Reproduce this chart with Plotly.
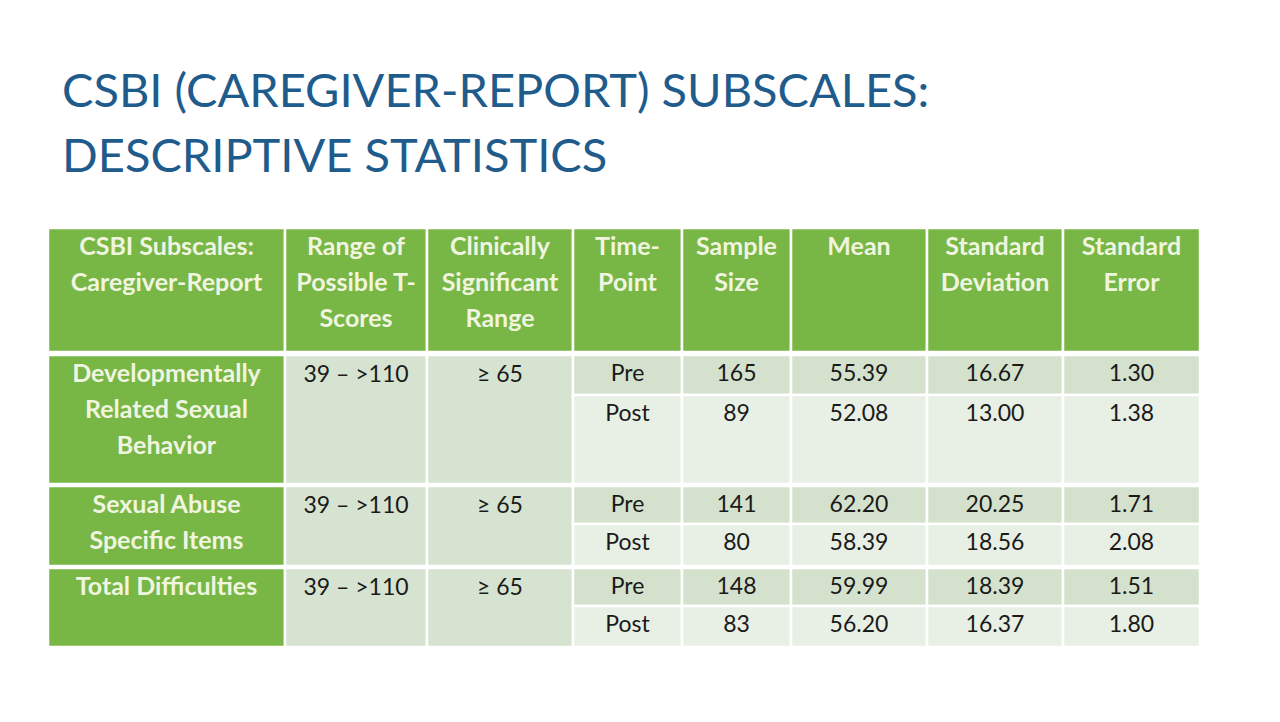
import plotly.graph_objects as go

# ---------------- data ----------------
title_lines = ["CSBI (CAREGIVER-REPORT) SUBSCALES:", "DESCRIPTIVE STATISTICS"]
headers = [
    ["CSBI Subscales:", "Caregiver-Report"],
    ["Range of", "Possible T-", "Scores"],
    ["Clinically", "Significant", "Range"],
    ["Time-", "Point"],
    ["Sample", "Size"],
    ["Mean"],
    ["Standard", "Deviation"],
    ["Standard", "Error"],
]
subscales = [
    ["Developmentally", "Related Sexual", "Behavior"],
    ["Sexual Abuse", "Specific Items"],
    ["Total Difficulties"],
]
t_score_range = ["39 – >110", "39 – >110", "39 – >110"]
clinical_range = ["≥ 65", "≥ 65", "≥ 65"]
time_points = ["Pre", "Post", "Pre", "Post", "Pre", "Post"]
sample_size = [165, 89, 141, 80, 148, 83]
means = [55.39, 52.08, 62.20, 58.39, 59.99, 56.20]
std_dev = [16.67, 13.00, 20.25, 18.56, 18.39, 16.37]
std_err = [1.30, 1.38, 1.71, 2.08, 1.51, 1.80]

# ---------------- layout geometry / styles ----------------
W, H = 1280, 722
PAGE_OFF = 8  # browser body margin compensation
col_edges = [48, 285, 427, 573, 682, 791, 927, 1063, 1200]
header_top, header_bot = 228, 352
sub_rows = [(355, 395), (395, 484), (486, 524), (524, 566), (568, 606), (606, 647)]
group_rows = [(0, 1), (2, 3), (4, 5)]
line_h = 36
first_off = 21

GREEN = "#78B646"
MERGED = "#D6E3D0"
PRE = "#D4E2CD"
POST = "#E8EFE4"
LIGHT_TXT = "#F0F5E0"
DARK_TXT = "#1a1a1a"
TITLE_C = "#1F5C8C"
FONT = "Lato"

fig = go.Figure()
shapes = []

def rect(x0, x1, y0, y1, color):
    shapes.append(dict(type="rect", xref="x", yref="y", x0=x0, x1=x1, y0=y0, y1=y1,
                       fillcolor=color, line=dict(color="white", width=2.5), layer="below"))

# header
for c in range(8):
    rect(col_edges[c], col_edges[c + 1], header_top, header_bot, GREEN)

# body
for g, (a, b) in enumerate(group_rows):
    top, bot = sub_rows[a][0], sub_rows[b][1]
    rect(col_edges[0], col_edges[1], top, bot, GREEN)
    rect(col_edges[1], col_edges[2], top, bot, MERGED)
    rect(col_edges[2], col_edges[3], top, bot, MERGED)
    for r in (a, b):
        color = PRE if time_points[r] == "Pre" else POST
        for c in range(3, 8):
            rect(col_edges[c], col_edges[c + 1], sub_rows[r][0], sub_rows[r][1], color)

cx = [(col_edges[i] + col_edges[i + 1]) / 2 for i in range(8)]

# header text
hx, hy, ht = [], [], []
for c, lines in enumerate(headers):
    for i, t in enumerate(lines):
        hx.append(cx[c]); hy.append(header_top + first_off + i * line_h); ht.append("<b>" + t + "</b>")
fig.add_trace(go.Scatter(x=hx, y=hy, text=ht, mode="text", textposition="middle center",
                         textfont=dict(family=FONT, size=25, color=LIGHT_TXT), hoverinfo="skip"))

# subscale names
sx, sy, st = [], [], []
for g, lines in enumerate(subscales):
    top = sub_rows[group_rows[g][0]][0]
    for i, t in enumerate(lines):
        sx.append(cx[0]); sy.append(top + first_off + i * line_h); st.append("<b>" + t + "</b>")
fig.add_trace(go.Scatter(x=sx, y=sy, text=st, mode="text", textposition="middle center",
                         textfont=dict(family=FONT, size=25, color=LIGHT_TXT), hoverinfo="skip"))

# body values
bx, by, bt = [], [], []
for g in range(3):
    top = sub_rows[group_rows[g][0]][0]
    bx += [cx[1], cx[2]]; by += [top + first_off] * 2
    bt += [t_score_range[g], clinical_range[g]]
for r in range(6):
    y = sub_rows[r][0] + 20
    vals = [time_points[r], str(sample_size[r]), f"{means[r]:.2f}", f"{std_dev[r]:.2f}", f"{std_err[r]:.2f}"]
    for k, v in enumerate(vals):
        bx.append(cx[3 + k]); by.append(y); bt.append(v)
fig.add_trace(go.Scatter(x=bx, y=by, text=bt, mode="text", textposition="middle center",
                         textfont=dict(family=FONT, size=23, color=DARK_TXT), hoverinfo="skip"))

# title
for i, t in enumerate(title_lines):
    fig.add_annotation(x=60, y=89 + i * 65, xref="x", yref="y", text=t, showarrow=False,
                       xanchor="left", yanchor="middle",
                       font=dict(family=FONT, size=47, color=TITLE_C))

fig.update_layout(
    width=W, height=H, margin=dict(l=0, r=0, t=0, b=0),
    paper_bgcolor="white", plot_bgcolor="white", showlegend=False, shapes=shapes,
    xaxis=dict(range=[PAGE_OFF, W + PAGE_OFF], visible=False, fixedrange=True),
    yaxis=dict(range=[H + PAGE_OFF, PAGE_OFF], visible=False, fixedrange=True),
)
fig.write_html("out.html")
